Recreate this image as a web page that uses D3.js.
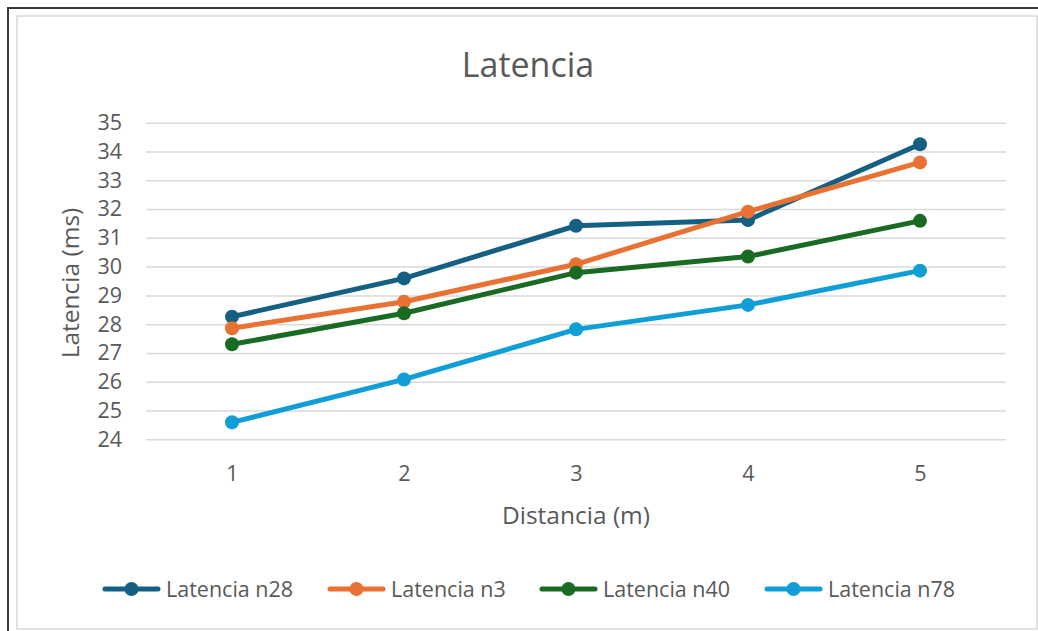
<!DOCTYPE html>
<html>
<head>
<meta charset="utf-8">
<script src="https://cdn.jsdelivr.net/npm/d3@7"></script>
<style>
  html, body { margin: 0; padding: 0; background: #fff; }
  svg { display: block; }
  text { font-family: "Open Sans", "Liberation Sans", sans-serif; fill: #595959; }
</style>
</head>
<body>
<svg id="chart" width="1038" height="631"></svg>
<script>
// Distance (m) on the x axis
const distances = [1, 2, 3, 4, 5];

// Latency (ms) per band
const latN28 = [28.26, 29.59, 31.42, 31.62, 34.25];
const latN3  = [27.86, 28.78, 30.08, 31.91, 33.62];
const latN40 = [27.30, 28.38, 29.79, 30.35, 31.59];
const latN78 = [24.59, 26.08, 27.82, 28.67, 29.86];

const seriesNames = ["Latencia n28", "Latencia n3", "Latencia n40", "Latencia n78"];
const seriesColors = ["#156082", "#E97132", "#196B24", "#0F9ED5"];
const yTicks = [24, 25, 26, 27, 28, 29, 30, 31, 32, 33, 34, 35];

const series = [latN28, latN3, latN40, latN78].map((vals, i) => ({
  name: seriesNames[i],
  color: seriesColors[i],
  points: vals.map((v, j) => ({ x: distances[j], y: v }))
}));

const svg = d3.select("#chart");

// Frame: dark outer edge plus light chart-area border
svg.append("path")
  .attr("d", "M8,631 V8 H1038")
  .attr("fill", "none").attr("stroke", "#3a3a3a").attr("stroke-width", 2);
svg.append("rect")
  .attr("x", 17).attr("y", 16).attr("width", 1020).attr("height", 613)
  .attr("fill", "#fff").attr("stroke", "#d9d9d9").attr("stroke-width", 1.5);

const plot = { left: 146, right: 1006, top: 122.7, bottom: 439.3 };

const x = d3.scalePoint().domain(distances).range([plot.left, plot.right]).padding(0.5);
const y = d3.scaleLinear().domain([24, 35]).range([plot.bottom, plot.top]);

const fontStack = "Open Sans, Liberation Sans, sans-serif";

// Horizontal gridlines and y tick labels
const yAxis = svg.append("g")
  .attr("transform", `translate(${plot.left},0)`)
  .call(d3.axisLeft(y).tickValues(yTicks).tickFormat(d3.format("d"))
    .tickSize(-(plot.right - plot.left)).tickPadding(24));
yAxis.select(".domain").remove();
yAxis.selectAll(".tick line").attr("stroke", "#d9d9d9").attr("stroke-width", 1.5);
yAxis.selectAll(".tick text").attr("font-size", 21.5).style("fill", "#595959")
  .attr("font-family", fontStack);

// X tick labels
const xAxis = svg.append("g")
  .attr("transform", `translate(0,${plot.bottom})`)
  .call(d3.axisBottom(x).tickSize(0).tickPadding(26));
xAxis.select(".domain").remove();
xAxis.selectAll(".tick text").attr("font-size", 21.5).style("fill", "#595959")
  .attr("font-family", fontStack);

// Title and axis titles
svg.append("text")
  .attr("x", 528).attr("y", 77).attr("text-anchor", "middle")
  .attr("font-size", 34).text("Latencia");
svg.append("text")
  .attr("x", 576).attr("y", 524).attr("text-anchor", "middle")
  .attr("font-size", 24.5).text("Distancia (m)");
svg.append("text")
  .attr("transform", "translate(79,283) rotate(-90)")
  .attr("text-anchor", "middle")
  .attr("font-size", 24.5).text("Latencia (ms)");

// Lines and markers
const line = d3.line().x(d => x(d.x)).y(d => y(d.y));
const g = svg.append("g");
series.forEach(s => {
  g.append("path")
    .datum(s.points)
    .attr("d", line)
    .attr("fill", "none")
    .attr("stroke", s.color)
    .attr("stroke-width", 5)
    .attr("stroke-linejoin", "round")
    .attr("stroke-linecap", "round");
  g.selectAll(null).data(s.points).enter().append("circle")
    .attr("cx", d => x(d.x)).attr("cy", d => y(d.y))
    .attr("r", 7).attr("fill", s.color);
});

// Legend
const legendX = [103, 328, 540, 765];
const legendY = 589;
const legend = svg.append("g");
series.forEach((s, i) => {
  const lg = legend.append("g").attr("transform", `translate(${legendX[i]},${legendY})`);
  lg.append("line").attr("x1", 2).attr("x2", 55).attr("y1", 0).attr("y2", 0)
    .attr("stroke", s.color).attr("stroke-width", 5).attr("stroke-linecap", "round");
  lg.append("circle").attr("cx", 28.5).attr("cy", 0).attr("r", 7).attr("fill", s.color);
  lg.append("text").attr("x", 63).attr("y", 0).attr("dy", "0.35em")
    .attr("font-size", 21.5).text(s.name);
});
</script>
</body>
</html>
